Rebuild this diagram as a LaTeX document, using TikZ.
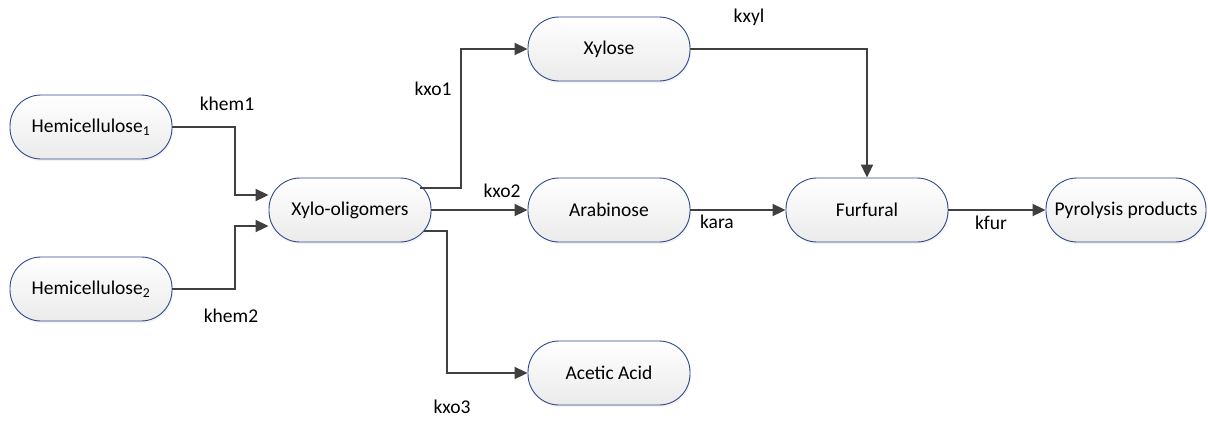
\documentclass[tikz,border=0pt]{standalone}
\usepackage{fontspec}
\setmainfont{Carlito}
\usetikzlibrary{arrows.meta,shadows}
\definecolor{edgeblue}{HTML}{2E4A8C}
\definecolor{linegray}{HTML}{404040}
\tikzset{
  proc/.style={draw=edgeblue, line width=0.9pt, top color=white, bottom color=black!8,
    minimum width=162pt, minimum height=64pt, rounded corners=31pt, inner sep=0pt,
    font=\fontsize{19.5}{23}\selectfont,
    drop shadow={opacity=0.10, shadow xshift=1pt, shadow yshift=-2pt}},
  conn/.style={draw=linegray, line width=2pt, -{Triangle[length=13pt,width=12pt]}},
  lbl/.style={font=\fontsize{19.5}{23}\selectfont, inner sep=0pt}
}
\begin{document}
\begin{tikzpicture}[x=1pt,y=-1pt]
\useasboundingbox (0,0) rectangle (1208,421);
\node[proc] (h1) at (91,127) {Hemicellulose\textsubscript{1}};
\node[proc] (h2) at (91,289) {Hemicellulose\textsubscript{2}};
\node[proc] (xo) at (350,210) {Xylo-oligomers};
\node[proc] (xyl) at (609,49) {Xylose};
\node[proc] (ara) at (609,210) {Arabinose};
\node[proc] (ace) at (609,373) {Acetic Acid};
\node[proc] (fur) at (867,210) {Furfural};
\node[proc, minimum width=160pt] (pyr) at (1126,210) {Pyrolysis products};

\coordinate (xoA) at (420,188);
\coordinate (xoB) at (424,231);

\draw[conn] (h1.east) -| (235,195) -- (xo.west |- 0,195);
\draw[conn] (h2.east) -| (235,226) -- (xo.west |- 0,226);
\draw[conn] (xoA) -| (461,49) -- (xyl.west);
\draw[conn] (xo.east) -- (ara.west);
\draw[conn] (xoB) -| (447,373) -- (ace.west);
\draw[conn] (xyl.east) -| (fur.north);
\draw[conn] (ara.east) -- (fur.west);
\draw[conn] (fur.east) -- (pyr.west);

\node[lbl] (l1) at (227,104) {khem1};
\node[lbl] (l2) at (231,316) {khem2};
\node[lbl] (l3) at (433,89) {kxo1};
\node[lbl] (l4) at (502,191) {kxo2};
\node[lbl] (l5) at (452,407) {kxo3};
\node[lbl] (l6) at (749,17) {kxyl};
\node[lbl] (l7) at (717,222) {kara};
\node[lbl] (l8) at (991,223) {kfur};
\end{tikzpicture}
\end{document}
